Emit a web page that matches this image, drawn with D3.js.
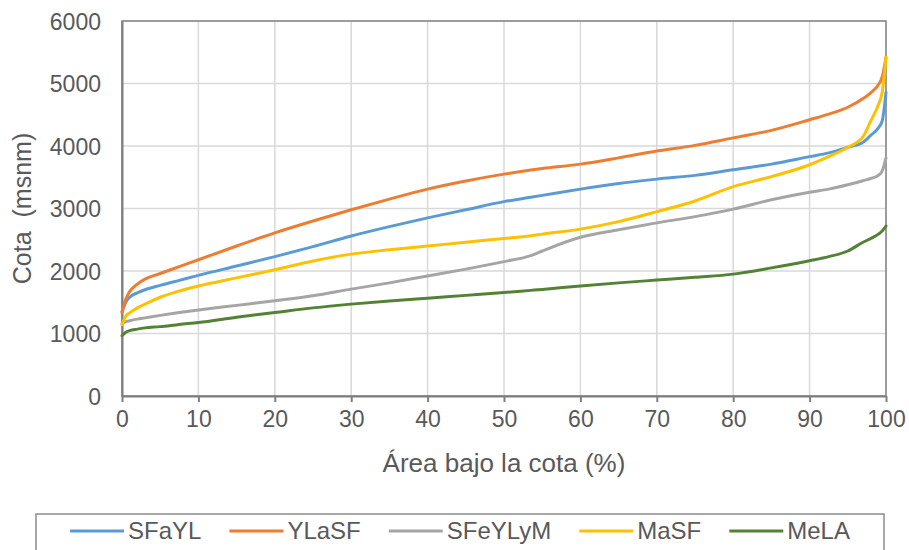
<!DOCTYPE html>
<html>
<head>
<meta charset="utf-8">
<script src="https://cdn.jsdelivr.net/npm/d3@7"></script>
<style>
  html, body { margin: 0; padding: 0; background: #fff; }
  svg { display: block; font-family: "Liberation Sans", Arial, sans-serif; }
</style>
</head>
<body>
<svg id="chart" width="909" height="550"></svg>
<script>
// Hypsometric curves: elevation (m a.s.l.) vs. percentage of area below it
const areaPct = [0, 0.5, 1, 2, 3, 5, 7.5, 10, 15, 20, 25, 30, 35, 40, 45, 50, 53.5, 55, 60, 65, 70, 75, 80, 85, 90, 92.5, 95, 97, 98, 99, 99.5, 100];

const sFaYL    = [1350, 1500, 1580, 1650, 1700, 1770, 1850, 1930, 2080, 2230, 2390, 2560, 2710, 2850, 2980, 3110, 3180, 3210, 3310, 3400, 3470, 3530, 3620, 3710, 3830, 3890, 3980, 4060, 4170, 4290, 4400, 4860];
const yLaSF    = [1330, 1550, 1670, 1790, 1870, 1960, 2070, 2180, 2400, 2610, 2800, 2980, 3150, 3310, 3440, 3550, 3615, 3640, 3710, 3810, 3920, 4010, 4130, 4250, 4420, 4510, 4620, 4760, 4850, 4980, 5105, 5420];
const sFeYLyM  = [1160, 1190, 1205, 1230, 1250, 1290, 1335, 1375, 1450, 1525, 1605, 1710, 1810, 1920, 2030, 2150, 2245, 2320, 2540, 2660, 2770, 2870, 2990, 3140, 3260, 3310, 3380, 3445, 3480, 3530, 3600, 3810];
const maSF     = [1140, 1280, 1330, 1410, 1470, 1580, 1680, 1760, 1890, 2020, 2160, 2270, 2340, 2400, 2460, 2520, 2565, 2590, 2670, 2790, 2950, 3120, 3350, 3510, 3700, 3830, 3980, 4150, 4400, 4660, 4860, 5420];
const meLA     = [965, 1020, 1045, 1070, 1090, 1110, 1145, 1175, 1260, 1335, 1410, 1470, 1520, 1565, 1610, 1655, 1690, 1705, 1760, 1810, 1855, 1900, 1950, 2050, 2165, 2230, 2320, 2460, 2520, 2590, 2640, 2720];

const seriesNames  = ["SFaYL", "YLaSF", "SFeYLyM", "MaSF", "MeLA"];
const seriesValues = [sFaYL, yLaSF, sFeYLyM, maSF, meLA];
const seriesColors = ["#5B9BD5", "#ED7D31", "#A5A5A5", "#FFC000", "#548235"];

const xTicks = [0, 10, 20, 30, 40, 50, 60, 70, 80, 90, 100];
const yTicks = [0, 1000, 2000, 3000, 4000, 5000, 6000];

const xTitle = "Área bajo la cota (%)";
const yTitle = "Cota\u00a0 (msnm)";

const svg = d3.select("#chart");
const textColor = "#595959";

const plot = { left: 122, right: 886, top: 21, bottom: 396 };

const x = d3.scaleLinear().domain([0, 100]).range([plot.left, plot.right]);
const y = d3.scaleLinear().domain([0, 6000]).range([plot.bottom, plot.top]);

// gridlines
const grid = svg.append("g");
grid.selectAll("line.v").data(xTicks).join("line")
  .attr("x1", d => x(d)).attr("x2", d => x(d))
  .attr("y1", plot.top).attr("y2", plot.bottom)
  .attr("stroke", "#D9D9D9").attr("stroke-width", 1.5);
grid.selectAll("line.h").data(yTicks).join("line")
  .attr("x1", plot.left).attr("x2", plot.right)
  .attr("y1", d => y(d)).attr("y2", d => y(d))
  .attr("stroke", "#D9D9D9").attr("stroke-width", 1.5);

// plot area border
svg.append("rect")
  .attr("x", plot.left).attr("y", plot.top)
  .attr("width", plot.right - plot.left).attr("height", plot.bottom - plot.top)
  .attr("fill", "none").attr("stroke", "#858585").attr("stroke-width", 1.5);

// axes
const xAxis = svg.append("g")
  .attr("transform", `translate(0,${plot.bottom})`)
  .call(d3.axisBottom(x).tickValues(xTicks).tickSize(6).tickPadding(9).tickSizeOuter(0)
    .tickFormat(d3.format("d")));
const yAxis = svg.append("g")
  .attr("transform", `translate(${plot.left},0)`)
  .call(d3.axisLeft(y).tickValues(yTicks).tickSize(0).tickPadding(21).tickSizeOuter(0)
    .tickFormat(d3.format("d")));

[xAxis, yAxis].forEach(g => {
  g.select(".domain").attr("stroke", "#7F7F7F").attr("stroke-width", 2);
  g.selectAll(".tick line").attr("stroke", "#7F7F7F").attr("stroke-width", 2);
  g.selectAll(".tick text")
    .attr("fill", textColor)
    .style("font-size", "23px")
    .style("font-family", "'Liberation Sans', Arial, sans-serif");
});
yAxis.selectAll(".tick text").attr("dy", "0.35em");

// lines
const line = d3.line()
  .x((d, i) => x(areaPct[i]))
  .y(d => y(d))
  .curve(d3.curveMonotoneX);

svg.append("g").selectAll("path")
  .data(seriesValues)
  .join("path")
  .attr("d", d => line(d))
  .attr("fill", "none")
  .attr("stroke", (d, i) => seriesColors[i])
  .attr("stroke-width", 3)
  .attr("stroke-linejoin", "round")
  .attr("stroke-linecap", "round");

// axis titles
svg.append("text")
  .attr("x", 504)
  .attr("y", 472)
  .attr("text-anchor", "middle")
  .attr("fill", textColor)
  .style("font-size", "26px")
  .text(xTitle);

svg.append("text")
  .attr("transform", `translate(31,${(plot.top + plot.bottom) / 2}) rotate(-90)`)
  .attr("text-anchor", "middle")
  .attr("fill", textColor)
  .style("font-size", "25px")
  .text(yTitle);

// legend
const legendBox = { x: 36, y: 514, w: 848, h: 50 };
svg.append("rect")
  .attr("x", legendBox.x).attr("y", legendBox.y)
  .attr("width", legendBox.w).attr("height", legendBox.h)
  .attr("fill", "#fff").attr("stroke", "#8C8C8C").attr("stroke-width", 1.5);

const legend = svg.append("g");
const swatchLen = 54, swatchGap = 4, itemGap = 28, legendY = 531;
const items = legend.selectAll("g").data(seriesNames).join("g");
items.append("line")
  .attr("x1", 0).attr("x2", swatchLen)
  .attr("y1", legendY).attr("y2", legendY)
  .attr("stroke", (d, i) => seriesColors[i])
  .attr("stroke-width", 3);
items.append("text")
  .attr("x", swatchLen + swatchGap)
  .attr("y", legendY)
  .attr("dy", "0.35em")
  .attr("fill", textColor)
  .style("font-size", "24px")
  .text(d => d);

let cursor = 0;
const widths = [];
items.each(function () {
  const w = swatchLen + swatchGap + d3.select(this).select("text").node().getComputedTextLength();
  widths.push(w);
});
const total = d3.sum(widths) + itemGap * (widths.length - 1);
cursor = legendBox.x + (legendBox.w - total) / 2;
items.attr("transform", (d, i) => {
  const t = `translate(${cursor},0)`;
  cursor += widths[i] + itemGap;
  return t;
});
</script>
</body>
</html>
